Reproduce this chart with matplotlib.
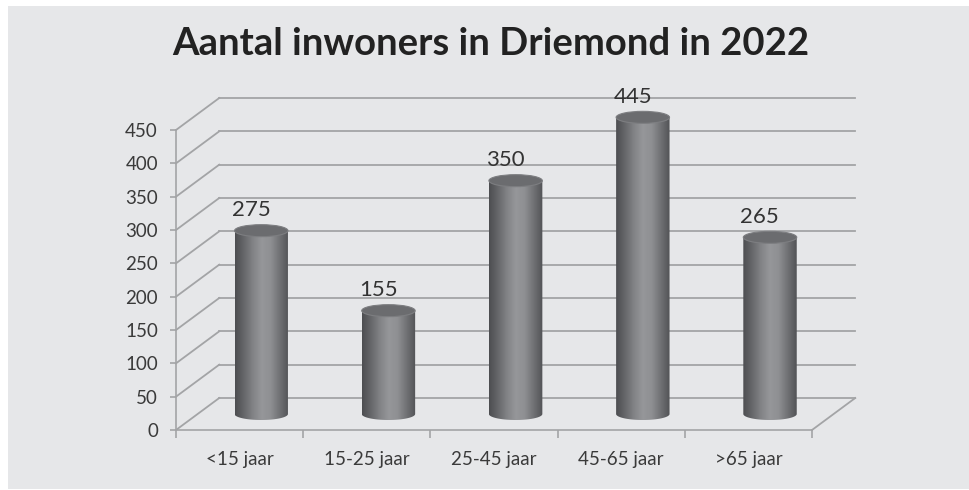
import numpy as np
import matplotlib
matplotlib.use('Agg')
import matplotlib.pyplot as plt
from matplotlib.patches import Ellipse, PathPatch, Rectangle
from matplotlib.path import Path
from matplotlib.colors import LinearSegmentedColormap

categories = ['<15 jaar', '15-25 jaar', '25-45 jaar', '45-65 jaar', '>65 jaar']
inwoners = [275, 155, 350, 445, 265]
yticks = [0, 50, 100, 150, 200, 250, 300, 350, 400, 450]
title = 'Aantal inwoners in Driemond in 2022'

# 3d look: depth offset of the back wall, in data units
dx = 0.34
dy = 48
bar_w = 0.42
ell_h = 18

bg = '#e6e7e9'
line_col = '#a3a4a6'
txt_col = '#3a3a3a'

plt.rcParams['font.family'] = ['Lato', 'DejaVu Sans']

fig = plt.figure(figsize=(9.69, 4.9), dpi=100)
fig.patch.set_facecolor('white')
fig.patches.append(Rectangle((8 / 969, 1 / 490), 961 / 969, 483 / 490,
                             transform=fig.transFigure, facecolor=bg,
                             edgecolor='none', zorder=-10))

ax = fig.add_axes([176 / 969, 60 / 490, 636 / 969, 300 / 490])
ax.set_facecolor('none')
ax.set_xlim(-0.5, 4.5)
ax.set_ylim(0, 450)

for s in ['top', 'right']:
    ax.spines[s].set_visible(False)
for s in ['left', 'bottom']:
    ax.spines[s].set_color(line_col)
    ax.spines[s].set_linewidth(1.2)

ax.set_yticks(yticks)
ax.tick_params(axis='y', direction='out', length=4, width=1.2, color=line_col,
               labelsize=13.5, labelcolor=txt_col, pad=9)
ax.set_xticks(np.arange(-0.5, 5, 1))
ax.set_xticklabels([])
ax.tick_params(axis='x', which='major', direction='out', length=6, width=1.2, color=line_col)
ax.set_xticks(np.arange(len(categories)), minor=True)
ax.set_xticklabels(categories, minor=True)
ax.tick_params(axis='x', which='minor', length=0, labelsize=13.5, labelcolor=txt_col, pad=15)

# back wall gridlines + side wall diagonals
for v in yticks:
    ax.plot([-0.5 + dx, 4.5 + dx], [v + dy, v + dy], color=line_col, lw=1.3,
            clip_on=False, zorder=1)
    ax.plot([-0.5, -0.5 + dx], [v, v + dy], color=line_col, lw=1.3,
            clip_on=False, zorder=1)
# floor right edge
ax.plot([4.5, 4.5 + dx], [0, dy], color=line_col, lw=1.3, clip_on=False, zorder=1)

cyl_cmap = LinearSegmentedColormap.from_list(
    'cyl', ['#4d4e51', '#66676a', '#828386', '#96979a', '#8e8f92', '#707174', '#525356'])
grad = np.linspace(0, 1, 200).reshape(1, -1)

for i, val in enumerate(inwoners):
    xc = i + dx / 2
    base = dy / 2
    top = val + dy / 2
    x0, x1 = xc - bar_w / 2, xc + bar_w / 2
    th = np.linspace(np.pi, 2 * np.pi, 60)
    arc = np.column_stack([xc + bar_w / 2 * np.cos(th), base + ell_h / 2 * np.sin(th)])
    verts = np.vstack([[x0, top], arc, [x1, top], [x0, top]])
    codes = [Path.MOVETO] + [Path.LINETO] * (len(verts) - 2) + [Path.CLOSEPOLY]
    body = PathPatch(Path(verts, codes), facecolor='none', edgecolor='none',
                     transform=ax.transData)
    ax.add_patch(body)
    im = ax.imshow(grad, cmap=cyl_cmap, aspect='auto', zorder=3,
                   extent=(x0, x1, base - ell_h / 2, top), interpolation='bilinear')
    im.set_clip_path(body)
    im.set_clip_box(fig.bbox)
    cap = Ellipse((xc, top), bar_w, ell_h, facecolor='#6b6c6f', edgecolor='#7d7e81',
                  lw=0.8, zorder=4, clip_on=False)
    ax.add_patch(cap)
    ax.text(xc - 0.08, top + ell_h / 2 + 7, str(val), ha='center', va='bottom',
            fontsize=16, color='#333333', zorder=5)

ax.set_xlim(-0.5, 4.5)
ax.set_ylim(0, 450)

fig.text(491 / 969, 1 - 44 / 490, title, ha='center', va='center',
         fontsize=27.5, fontweight='bold', color='#222222')

fig.savefig('out.png', dpi=100, facecolor=fig.get_facecolor())
